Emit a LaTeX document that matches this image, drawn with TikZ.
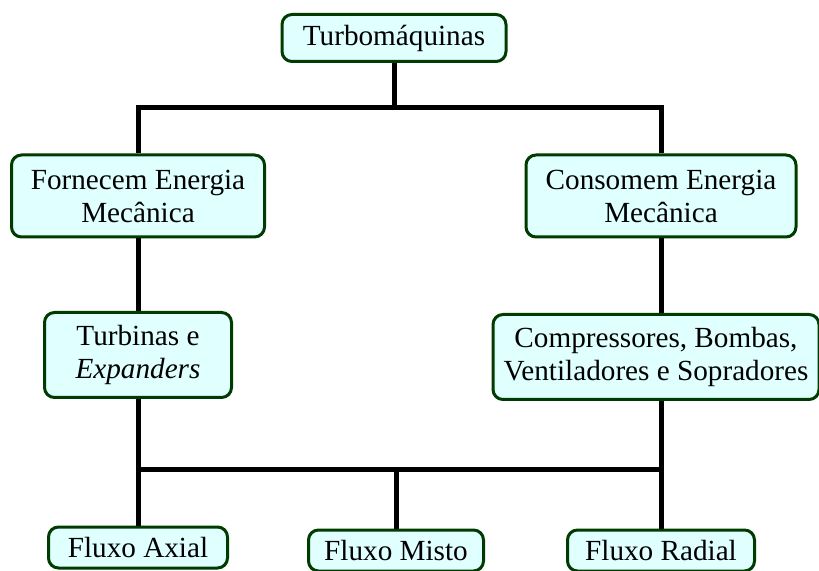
\documentclass[tikz,border=0pt]{standalone}
\usepackage{fontspec}
\setmainfont{Liberation Serif}
\definecolor{boxfill}{RGB}{224,255,255}
\definecolor{boxline}{RGB}{0,60,0}
\tikzset{
  caixa/.style={draw=boxline,fill=boxfill,line width=1.5pt,rounded corners=5pt,
    align=center,inner sep=0pt,font=\fontsize{14.6}{16.5}\selectfont},
  liga/.style={line width=2.5pt,black}
}
\begin{document}
\begin{tikzpicture}[x=0.5pt,y=-0.5pt]
	\useasboundingbox (0,0) rectangle (819,571);
	% caixas
	\node[caixa,minimum width=112pt,minimum height=23.5pt] (turbo) at (394,38) {Turbomáquinas};
	\node[caixa,minimum width=126.5pt,minimum height=41pt] (fornece) at (138,196) {Fornecem Energia\\Mecânica};
	\node[caixa,minimum width=135pt,minimum height=41pt] (consome) at (661,196) {Consomem Energia\\Mecânica};
	\node[caixa,minimum width=93.5pt,minimum height=42.5pt] (turbinas) at (138,355) {Turbinas e\\\textit{Expanders}};
	\node[caixa,minimum width=163pt,minimum height=42.5pt] (compress) at (656,357) {Compressores, Bombas,\\Ventiladores e Sopradores};
	\node[caixa,minimum width=89.5pt,minimum height=20.5pt] (axial) at (138,547.5) {Fluxo Axial};
	\node[caixa,minimum width=87.5pt,minimum height=20.5pt] (misto) at (396,550.5) {Fluxo Misto};
	\node[caixa,minimum width=93.5pt,minimum height=20.5pt] (radial) at (661,550.5) {Fluxo Radial};
	% ligacoes
	\coordinate (j1) at (394,108);
	\coordinate (j2) at (396,469);
	\draw[liga] (turbo.south)--(j1);
	\draw[liga] (fornece.north)--(fornece.north|-j1)--(consome.north|-j1)--(consome.north);
	\draw[liga] (fornece.south)--(turbinas.north);
	\draw[liga] (consome.south)--(consome.south|-compress.north);
	\draw[liga] (turbinas.south)--(axial.north);
	\draw[liga] (radial.north|-compress.south)--(radial.north);
	\draw[liga] (axial.north|-j2)--(radial.north|-j2);
	\draw[liga] (j2)--(misto.north);
\end{tikzpicture}
\end{document}
